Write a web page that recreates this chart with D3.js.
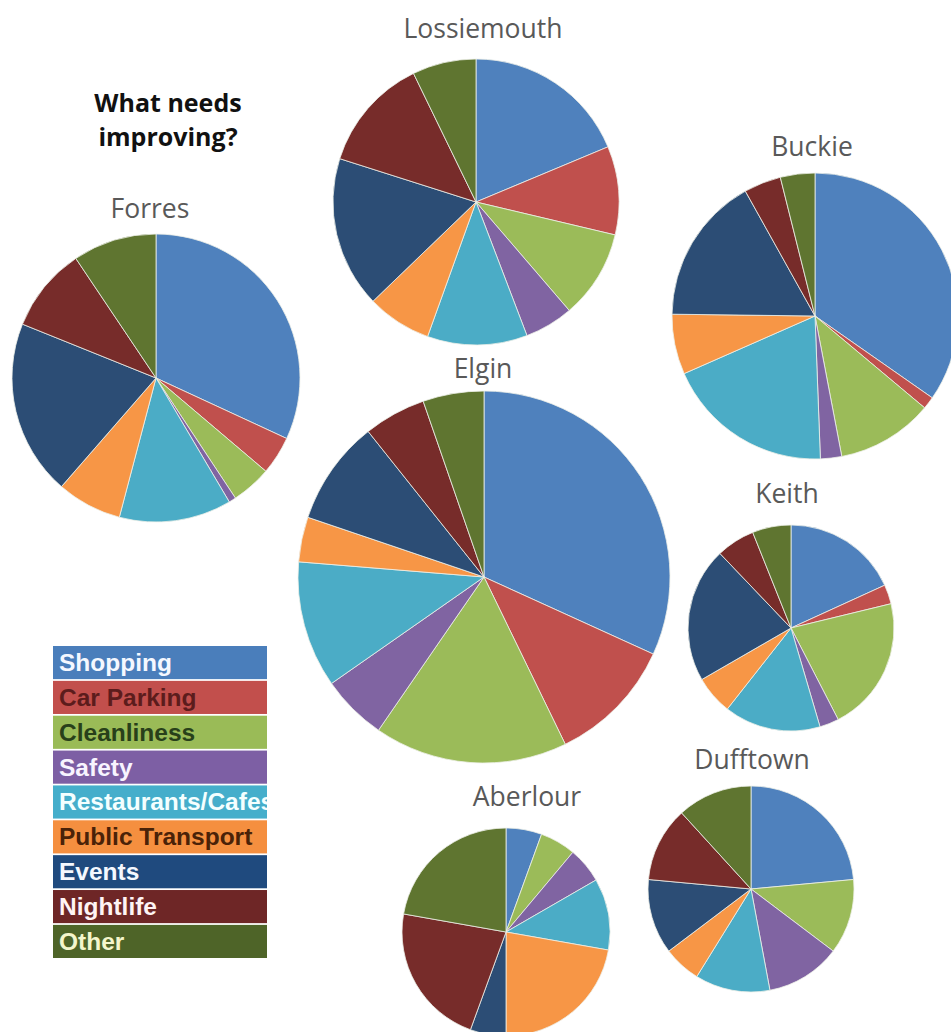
<!DOCTYPE html>
<html>
<head>
<meta charset="utf-8">
<script src="https://cdn.jsdelivr.net/npm/d3@7"></script>
<style>
  html, body { margin: 0; padding: 0; background: #fff; }
  svg { display: block; }
</style>
</head>
<body>
<svg id="chart" width="951" height="1032"></svg>
<script>
// categories, in the order the slices run clockwise from 12 o'clock
const categories = ["Shopping", "Car Parking", "Cleanliness", "Safety", "Restaurants/Cafes",
                    "Public Transport", "Events", "Nightlife", "Other"];

const towns = ["Forres", "Lossiemouth", "Buckie", "Elgin", "Keith", "Aberlour", "Dufftown"];

// values (share of responses)
const forres      = [31.9, 4.3, 4.5, 0.8, 12.6, 7.3, 19.7, 9.5, 9.4];
const lossiemouth = [18.7, 10.0, 10.0, 5.5, 11.3, 7.3, 17.1, 12.9, 7.2];
const buckie      = [34.7, 1.4, 10.9, 2.4, 19.0, 6.8, 16.7, 4.2, 3.9];
const elgin       = [31.8, 11.0, 16.8, 5.7, 11.0, 3.9, 9.1, 5.4, 5.3];
const keith       = [6, 1, 7, 1, 5, 2, 7, 2, 2];
const aberlour    = [1, 0, 1, 1, 2, 4, 1, 4, 4];
const dufftown    = [4, 0, 2, 2, 2, 1, 2, 2, 2];

const townValues = [forres, lossiemouth, buckie, elgin, keith, aberlour, dufftown];

// where each pie sits on the page
const layout = [
  { cx: 156, cy: 378, r: 144, tx: 150, ty: 218 },
  { cx: 476, cy: 202, r: 143, tx: 483, ty: 38 },
  { cx: 815, cy: 316, r: 143, tx: 812, ty: 156 },
  { cx: 484, cy: 577, r: 186, tx: 483, ty: 378 },
  { cx: 791, cy: 628, r: 103, tx: 787, ty: 503 },
  { cx: 506, cy: 932, r: 104, tx: 527, ty: 806 },
  { cx: 751, cy: 889, r: 103, tx: 752, ty: 769 }
];

const sliceColors  = ["#4f81bd", "#c0504d", "#9bbb59", "#8064a2", "#4bacc6", "#f79646", "#2c4d75", "#772c2a", "#5f7530"];
const legendColors = ["#4a7ebb", "#c24f4c", "#9abb57", "#7d5fa4", "#45aecb", "#f58f3f", "#1f4a7e", "#6e2626", "#4e6428"];
const legendText   = ["#f4f8ff", "#5c1c1c", "#28401a", "#f8f4ff", "#f4ffff", "#4a2208", "#f4f8ff", "#fff4f4", "#f4f6cc"];

const svg = d3.select("#chart");

const color = d3.scaleOrdinal().domain(categories).range(sliceColors);

const pie = d3.pie()
    .sort(null)
    .value(d => d.value);

// Draw the pies
towns.forEach((town, i) => {
    const pos = layout[i];
    const data = categories.map((c, k) => ({ category: c, value: townValues[i][k] }));

    const arc = d3.arc()
        .innerRadius(0)
        .outerRadius(pos.r);

    const g = svg.append("g")
        .attr("transform", `translate(${pos.cx},${pos.cy})`);

    g.selectAll("path")
        .data(pie(data).filter(d => d.data.value > 0))
        .enter()
        .append("path")
        .attr("d", arc)
        .attr("fill", d => color(d.data.category))
        .attr("stroke", "#eef0e8")
        .attr("stroke-width", 0.8)
        .attr("stroke-linejoin", "round");

    svg.append("text")
        .attr("x", pos.tx)
        .attr("y", pos.ty)
        .attr("text-anchor", "middle")
        .attr("font-family", "'Open Sans', sans-serif")
        .attr("font-size", 26.5)
        .attr("fill", "#595959")
        .text(town);
});

// Title
svg.append("text")
    .attr("x", 168)
    .attr("y", 112)
    .attr("text-anchor", "middle")
    .attr("font-family", "'Open Sans', sans-serif")
    .attr("font-weight", "bold")
    .attr("font-size", 25)
    .attr("fill", "#111")
    .selectAll("tspan")
    .data(["What needs", "improving?"])
    .enter()
    .append("tspan")
    .attr("x", 168)
    .attr("dy", (d, i) => i === 0 ? 0 : 34)
    .text(d => d);

// Legend
const legendX = 53, legendY = 646, legendW = 214;
const row = d3.scaleBand()
    .domain(categories)
    .range([legendY, legendY + 312])
    .paddingInner(0.05);

svg.append("clipPath")
    .attr("id", "legend-clip")
    .append("rect")
    .attr("x", legendX)
    .attr("y", legendY)
    .attr("width", legendW)
    .attr("height", 312);

const legend = svg.append("g")
    .attr("clip-path", "url(#legend-clip)");

legend.selectAll("rect")
    .data(categories)
    .enter()
    .append("rect")
    .attr("x", legendX)
    .attr("y", d => row(d))
    .attr("width", legendW)
    .attr("height", row.bandwidth())
    .attr("fill", (d, i) => legendColors[i]);

legend.selectAll("text")
    .data(categories)
    .enter()
    .append("text")
    .attr("x", legendX + 6)
    .attr("y", d => row(d) + 25)
    .attr("font-family", "'Liberation Sans', Arial, sans-serif")
    .attr("font-weight", "bold")
    .attr("font-size", 24.5)
    .attr("fill", (d, i) => legendText[i])
    .text(d => d);
</script>
</body>
</html>
